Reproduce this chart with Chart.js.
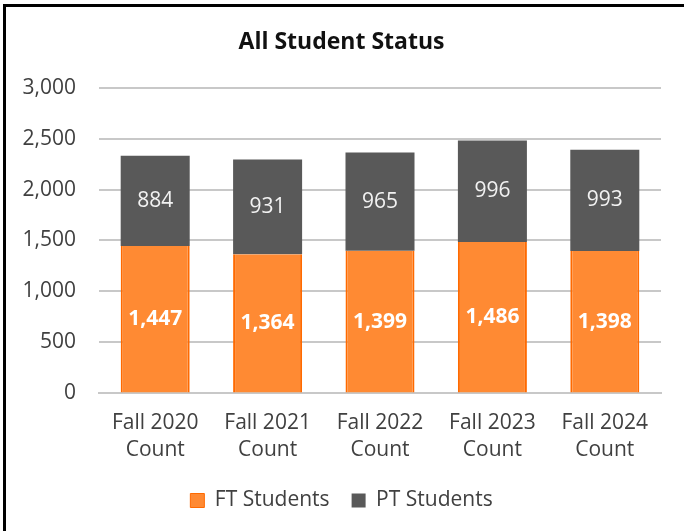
<!DOCTYPE html>
<html>
<head>
<meta charset="utf-8">
<script src="https://cdn.jsdelivr.net/npm/chart.js@4"></script>
<style>
    body { margin: 0; background: #fff; }
    #wrap { position: relative; width: 684px; height: 531px; }
    #chart { position: absolute; left: 0; top: 0; }
    #frame {
        position: absolute; left: 3px; top: 4px; right: 0; bottom: 0;
        border-top: 3px solid #000; border-left: 3px solid #000;
        pointer-events: none;
    }
</style>
</head>
<body>
<div id="wrap">
    <canvas id="chart" width="684" height="531"></canvas>
    <div id="frame"></div>
</div>
<script>
let years = ['Fall 2020', 'Fall 2021', 'Fall 2022', 'Fall 2023', 'Fall 2024'];
let ftStudents = [1447, 1364, 1399, 1486, 1398];
let ptStudents = [884, 931, 965, 996, 993];

let labels = years.map(y => [y, 'Count']);

// write the numbers in the middle of each bar segment
const barLabels = {
    id: 'barLabels',
    afterDatasetsDraw(chart) {
        const ctx = chart.ctx;
        ctx.save();
        ctx.textAlign = 'center';
        ctx.textBaseline = 'middle';
        chart.data.datasets.forEach((ds, i) => {
            const meta = chart.getDatasetMeta(i);
            meta.data.forEach((bar, j) => {
                if (i === 0) {
                    ctx.font = 'bold 21px "Open Sans"';
                    ctx.fillStyle = '#ffffff';
                } else {
                    ctx.font = '21px "Open Sans"';
                    ctx.fillStyle = '#f2f2f2';
                }
                ctx.fillText(ds.data[j].toLocaleString('en-US'), bar.x, (bar.y + bar.base) / 2);
            });
        });
        ctx.restore();
    }
};

let ctx = document.getElementById('chart').getContext('2d');
let myChart = new Chart(ctx, {
    type: 'bar',
    data: {
        labels: labels,
        datasets: [{
            label: 'FT Students',
            data: ftStudents,
            backgroundColor: '#ff8a33',
            borderColor: '#ff6a00',
            borderWidth: { left: 2, right: 2, top: 0, bottom: 0 },
            categoryPercentage: 1,
            barPercentage: 0.614
        }, {
            label: 'PT Students',
            data: ptStudents,
            backgroundColor: '#595959',
            borderWidth: 0,
            categoryPercentage: 1,
            barPercentage: 0.614
        }]
    },
    options: {
        responsive: false,
        animation: false,
        layout: {
            padding: { left: 22, right: 23, top: 10, bottom: 10 }
        },
        plugins: {
            title: {
                display: true,
                text: 'All Student Status',
                color: '#111',
                font: { family: 'Open Sans', size: 23, weight: 'bold' },
                padding: { top: 19, bottom: 31 }
            },
            legend: {
                position: 'bottom',
                labels: {
                    color: '#404040',
                    font: { family: 'Open Sans', size: 21 },
                    boxWidth: 14,
                    boxHeight: 14,
                    padding: 22
                }
            },
            tooltip: { enabled: false }
        },
        scales: {
            x: {
                stacked: true,
                grid: { display: false, drawTicks: false },
                border: { color: '#c8c8c8', width: 2 },
                ticks: {
                    color: '#404040',
                    font: { family: 'Open Sans', size: 21, lineHeight: 1.3 },
                    padding: 16,
                    maxRotation: 0
                },
                afterFit: scale => {
                    scale.paddingLeft = 0;
                    scale.paddingRight = 0;
                    scale.height -= 12;
                }
            },
            y: {
                stacked: true,
                min: 0,
                max: 3000,
                grid: { color: '#c8c8c8', lineWidth: 2, drawTicks: false },
                border: { display: false },
                ticks: {
                    stepSize: 500,
                    color: '#404040',
                    font: { family: 'Open Sans', size: 21 },
                    padding: 23,
                    callback: v => v.toLocaleString('en-US')
                },
                afterFit: scale => {
                    scale.width = 77;
                }
            }
        }
    },
    plugins: [barLabels]
});
</script>
</body>
</html>
